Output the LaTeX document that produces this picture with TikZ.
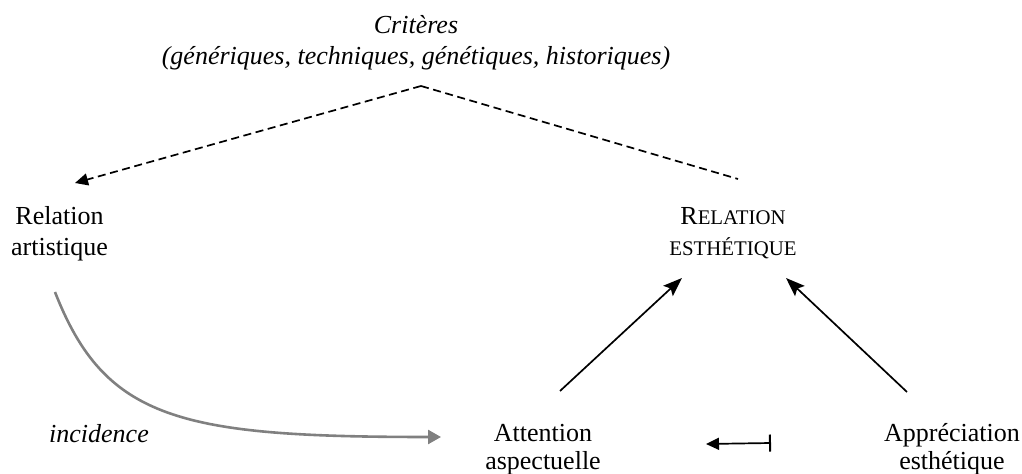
\documentclass[tikz,border=0pt]{standalone}
\usepackage{fontspec}
\setmainfont{Liberation Serif}
\usetikzlibrary{arrows.meta}
\newcommand{\fakesc}[1]{{\fontsize{10.4}{15.5}\selectfont #1}}
\begin{document}
\begin{tikzpicture}[x=0.5pt,y=-0.5pt,
  lbl/.style={inner sep=0pt,outer sep=0pt,align=center,anchor=base,
    font=\fontsize{13}{15.5}\selectfont},
  lbltight/.style={lbl,font=\fontsize{13}{14}\selectfont},
  dashedarrow/.style={line width=0.85pt,dash pattern=on 4pt off 2.3pt},
  solidarrow/.style={line width=0.85pt,-{Stealth[length=9.5pt,width=7pt,inset=1.8pt]}},
  grayarrow/.style={line width=1.3pt,draw={rgb,255:red,128;green,128;blue,128},
    -{Triangle[length=6.5pt,width=7pt,fill={rgb,255:red,128;green,128;blue,128}]}},
  bararrow/.style={line width=0.85pt,{Triangle[length=6.5pt,width=6pt]}-{Bar[width=8.5pt,line width=1pt]}}
]
\useasboundingbox (0,0) rectangle (1022,474);
\clip (0,0) rectangle (1022,474);

% nodes (anchor base = baseline of the last line)
\node[lbl,font=\fontsize{13}{15.5}\selectfont\itshape] (crit) at (416,65)
  {Critères\\(génériques, techniques, génétiques, historiques)};
\node[lbl] (art) at (59.5,256) {Relation\\artistique};
\node[lbl] (esth) at (733,256) {R\fakesc{ELATION}\\\fakesc{ESTHÉTIQUE}};
\node[lbltight] (att) at (543,470) {Attention\\aspectuelle};
\node[lbltight] (app) at (952,470) {Appréciation\\esthétique};
\node[lbl,font=\fontsize{13}{15.5}\selectfont\itshape] (inc) at (99,443) {incidence};

% connector end points
\coordinate (apex) at (421,86);
\coordinate (artTip) at (75,183);
\coordinate (esthFree) at (738,179);
\coordinate (artStart) at (55,292);
\coordinate (attTip) at (441,437);
\coordinate (attFrom) at (560,391);
\coordinate (esthTipL) at (682,278);
\coordinate (appFrom) at (907,392);
\coordinate (esthTipR) at (786,278);
\coordinate (barTip) at (706,444);
\coordinate (barEnd) at (771,443);

% connectors
\draw[dashedarrow,-{Triangle[length=6.5pt,width=6pt]}] (apex) -- (artTip);
\draw[dashedarrow] (apex) -- (esthFree);
\draw[grayarrow] (artStart) .. controls (105,420) and (180,437) .. (attTip);
\draw[solidarrow] (attFrom) -- (esthTipL);
\draw[solidarrow] (appFrom) -- (esthTipR);
\draw[bararrow] (barTip) -- (barEnd);
\end{tikzpicture}
\end{document}
